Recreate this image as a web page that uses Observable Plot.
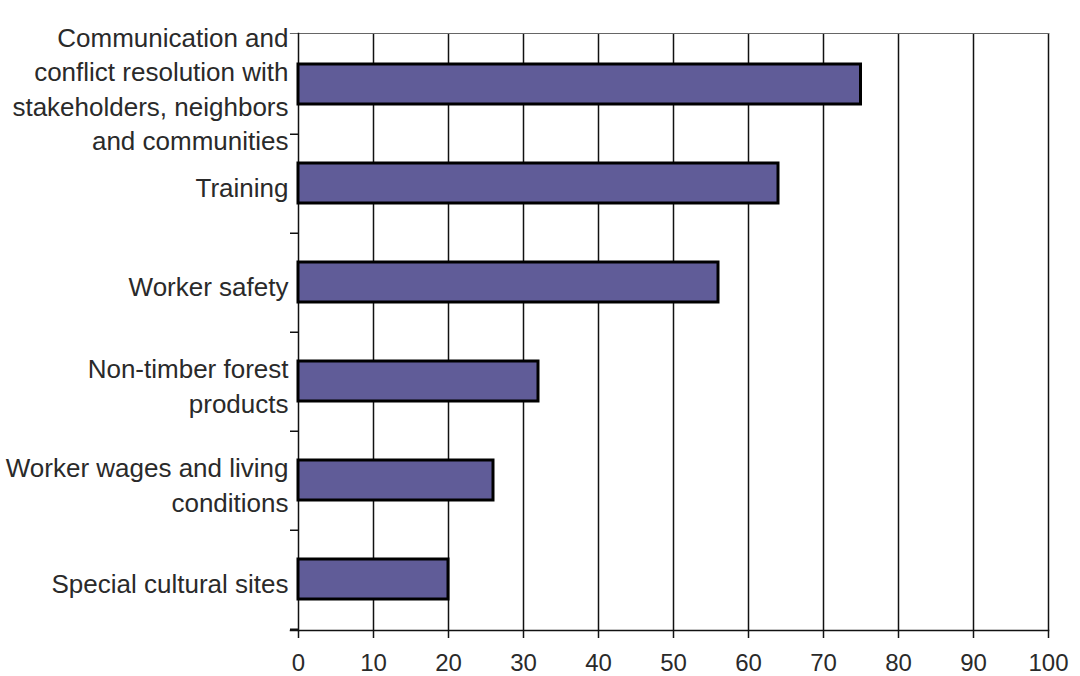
<!DOCTYPE html>
<html>
<head>
<meta charset="utf-8">
<script src="https://cdn.jsdelivr.net/npm/d3@7"></script>
<script src="https://cdn.jsdelivr.net/npm/@observablehq/plot@0.6"></script>
<style>
  html, body { margin: 0; padding: 0; background: #fff; }
  svg { display: block; }
</style>
</head>
<body>
<div id="chart"></div>
<script>
const categories = [
  "Communication and\nconflict resolution with\nstakeholders, neighbors\nand communities",
  "Training",
  "Worker safety",
  "Non-timber forest\nproducts",
  "Worker wages and living\nconditions",
  "Special cultural sites"
];
const values = [75, 64, 56, 32, 26, 20];
const xTicks = [0, 10, 20, 30, 40, 50, 60, 70, 80, 90, 100];

const data = categories.map((c, i) => ({category: c, value: values[i]}));

const W = 1080, H = 676, mT = 33, mB = 46;
const step = (H - mT - mB) / categories.length;

const chart = Plot.plot({
  width: W,
  height: H,
  marginLeft: 298,
  marginRight: 32,
  marginTop: mT,
  marginBottom: mB,
  style: {fontFamily: "'Liberation Sans', Arial, sans-serif", background: "#fff", color: "#222"},
  x: {domain: [0, 100], axis: null},
  y: {domain: categories, paddingInner: 0.6, paddingOuter: 0.3, axis: null},
  marks: [
    Plot.ruleX(xTicks.filter(d => d > 0), {stroke: "#111", strokeWidth: 1.5}),
    Plot.frame({anchor: "top", stroke: "#666", strokeWidth: 1.2, insetLeft: -8}),
    Plot.frame({anchor: "left", stroke: "#111", strokeWidth: 1.5}),
    Plot.barX(data, {x: "value", y: "category", fill: "#605c98", stroke: "#000", strokeWidth: 3}),
    Plot.axisY({tickSize: 8, tickFormat: () => "", label: null, dy: step / 2, stroke: "#111", strokeWidth: 1.5}),
    Plot.text(data, {
      y: "category", text: "category", frameAnchor: "left", textAnchor: "end",
      dx: -10, dy: 3, fontSize: 26, lineHeight: 1.32, fill: "#2a2a2a"
    }),
    Plot.axisX({ticks: xTicks, tickSize: 8, tickPadding: 15, fontSize: 24, label: null, stroke: "#111", fill: "#2a2a2a", strokeWidth: 1.5}),
    Plot.frame({anchor: "bottom", stroke: "#111", strokeWidth: 1.5, insetLeft: -8})
  ]
});
document.getElementById("chart").appendChild(chart);
</script>
</body>
</html>
